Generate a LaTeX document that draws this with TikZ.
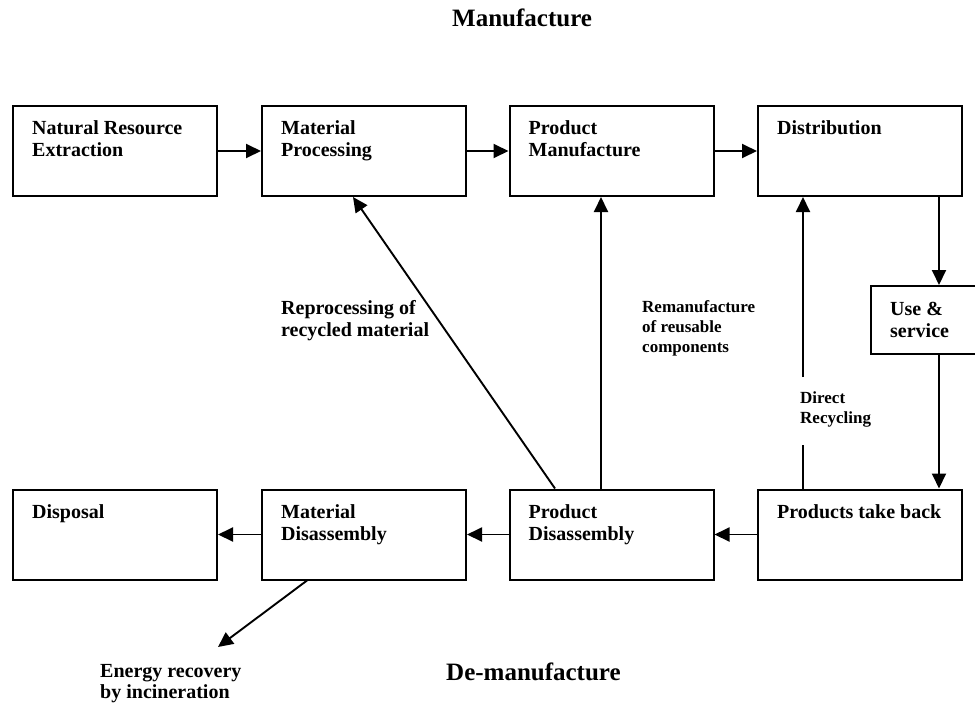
\documentclass[tikz,border=0pt]{standalone}
\usepackage{fontspec}
\setmainfont{Liberation Serif}
\usetikzlibrary{arrows.meta}
\tikzset{
  box/.style={draw, line width=2pt, minimum width=204pt, minimum height=90pt, inner sep=0pt},
  lbl/.style={anchor=base west, inner sep=0pt, align=left, font=\fontsize{20}{22}\selectfont\bfseries},
  small/.style={anchor=base west, inner sep=0pt, align=left, font=\fontsize{17}{20}\selectfont\bfseries},
  title/.style={anchor=base west, inner sep=0pt, font=\fontsize{25}{28}\selectfont\bfseries},
  arr/.style={line width=1.9pt, -{Triangle[length=15pt,width=14pt]}},
  ln/.style={line width=1.9pt}
}
\begin{document}
\begin{tikzpicture}[x=1pt,y=-1pt]
\useasboundingbox (0,0) rectangle (975,702);
% top row
\node[box] (nre) at (115,151) {};
\node[box] (mp) at (364,151) {};
\node[box] (pm) at (611.5,151) {};
\node[box] (dist) at (860,151) {};
% bottom row
\node[box] (disp) at (115,534.5) {};
\node[box] (md) at (364,534.5) {};
\node[box] (pd) at (611.5,534.5) {};
\node[box] (ptb) at (860,534.5) {};
% use & service
\node[draw, line width=2pt, minimum width=107pt, minimum height=68pt, inner sep=0pt] (use) at (924.5,320) {};

% box texts (base anchor = baseline of last line)
\node[lbl] (t1) at ([shift={(20,51)}]nre.north west) {Natural Resource\\Extraction};
\node[lbl] (t2) at ([shift={(20,51)}]mp.north west) {Material\\Processing};
\node[lbl] (t3) at ([shift={(20,51)}]pm.north west) {Product\\Manufacture};
\node[lbl] (t4) at ([shift={(20,29)}]dist.north west) {Distribution};
\node[lbl] (t5) at ([shift={(20,30)}]disp.north west) {Disposal};
\node[lbl] (t6) at ([shift={(20,52)}]md.north west) {Material\\Disassembly};
\node[lbl] (t7) at ([shift={(20,52)}]pd.north west) {Product\\Disassembly};
\node[lbl] (t8) at ([shift={(20,30)}]ptb.north west) {Products take back};
\node[lbl] (t9) at ([shift={(20,52)}]use.north west) {Use \&\\service};

% titles
\node[title] (tman) at (452,26) {Manufacture};
\node[title] (tdeman) at (446,680) {De-manufacture};

% other labels
\node[lbl] (lrep) at (281,336) {Reprocessing of\\recycled material};
\node[small] (lrem) at (642,352) {Remanufacture\\of reusable\\components};
\node[small] (ldir) at (800,423) {Direct\\Recycling};
\node[lbl, font=\fontsize{20}{21}\selectfont\bfseries] (leng) at (100,698) {Energy recovery\\by incineration};

% forward arrows
\draw[arr] (nre.east) -- (mp.west);
\draw[arr] (mp.east) -- (pm.west);
\draw[arr] (pm.east) -- (dist.west);
\draw[arr] ([xshift=79pt]dist.south) -- ([xshift=79pt]dist.south |- use.north);
\draw[arr] ([xshift=79pt]ptb.north |- use.south) -- ([xshift=79pt]ptb.north);
\draw[arr] (ptb.west) -- (pd.east);
\draw[arr] (pd.west) -- (md.east);
\draw[arr] (md.west) -- (disp.east);

% return arrows
\draw[arr] ([xshift=-10.5pt]pd.north) -- ([xshift=-10.5pt]pm.south);
\draw[arr] ([xshift=-56.5pt]pd.north) -- ([xshift=-11pt]mp.south);
\coordinate (gapbot) at (803,445);
\coordinate (gaptop) at (803,377);
\draw[ln] ([xshift=-57pt]ptb.north) -- (gapbot);
\draw[arr] (gaptop) -- ([xshift=-57pt]dist.south);
\coordinate (energy) at (218,647);
\draw[arr] ([xshift=-57pt]md.south) -- (energy);
\end{tikzpicture}
\end{document}
